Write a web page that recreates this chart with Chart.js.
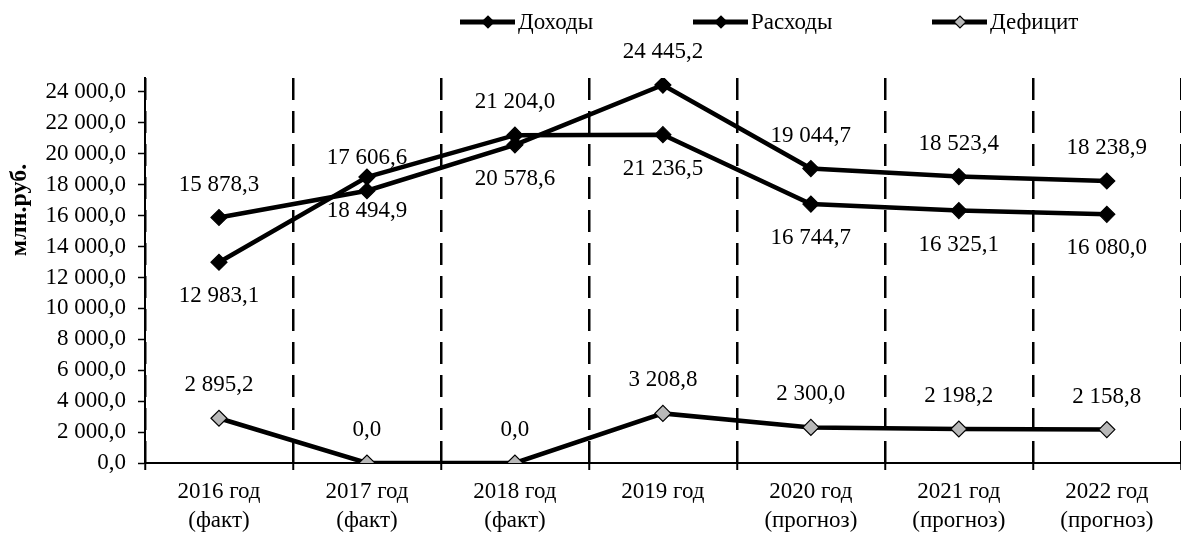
<!DOCTYPE html>
<html lang="ru">
<head>
<meta charset="utf-8">
<title>Доходы, расходы и дефицит бюджета</title>
<script src="https://cdn.jsdelivr.net/npm/chart.js@4.4.1/dist/chart.umd.min.js"></script>
<style>
  html, body { margin: 0; padding: 0; background: #fff; overflow: hidden; }
  #wrap { position: relative; width: 1190px; height: 533px; }
</style>
</head>
<body>
<div id="wrap"><canvas id="chart" width="1190" height="533"></canvas></div>
<script>
// ------------------ Data ------------------
const YEARS = [
  ["2016 год", "(факт)"],
  ["2017 год", "(факт)"],
  ["2018 год", "(факт)"],
  ["2019 год"],
  ["2020 год", "(прогноз)"],
  ["2021 год", "(прогноз)"],
  ["2022 год", "(прогноз)"]
];
const INCOME   = [12983.1, 18494.9, 21204.0, 21236.5, 16744.7, 16325.1, 16080.0]; // Доходы
const EXPENSES = [15878.3, 17606.6, 20578.6, 24445.2, 19044.7, 18523.4, 18238.9]; // Расходы
const DEFICIT  = [2895.2, 0.0, 0.0, 3208.8, 2300.0, 2198.2, 2158.8];              // Дефицит
const Y_TICKS  = [0, 2000, 4000, 6000, 8000, 10000, 12000, 14000, 16000, 18000, 20000, 22000, 24000];
const Y_MAX = 24900;

const FONT = "'Liberation Serif', 'Times New Roman', serif";
const FONT_SIZE = 23;

// "15 878,3"
function fmt(v) {
  const [i, d] = v.toFixed(1).split(".");
  return i.replace(/\B(?=(\d{3})+(?!\d))/g, " ") + "," + d;
}

// ------------------ Plugins ------------------
// value labels above / below each point
const valueLabels = {
  id: "valueLabels",
  afterDatasetsDraw(chart) {
    const ctx = chart.ctx;
    ctx.save();
    ctx.font = FONT_SIZE + "px " + FONT;
    ctx.fillStyle = "#000";
    ctx.textAlign = "center";
    ctx.textBaseline = "middle";
    chart.data.datasets.forEach((ds, i) => {
      chart.getDatasetMeta(i).data.forEach((pt, j) => {
        const dy = ds.labelSide[j] === "below" ? 34 : -33;
        ctx.fillText(fmt(ds.data[j]), pt.x, pt.y + dy);
      });
    });
    ctx.restore();
  }
};

// legend drawn as line + marker, like the original
const lineLegend = {
  id: "lineLegend",
  afterDraw(chart) {
    const ctx = chart.ctx;
    const starts = [460, 693, 932];
    const y = 22;
    ctx.save();
    chart.data.datasets.forEach((ds, i) => {
      const x = starts[i];
      ctx.strokeStyle = ds.borderColor;
      ctx.lineWidth = 5;
      ctx.beginPath();
      ctx.moveTo(x, y);
      ctx.lineTo(x + 55, y);
      ctx.stroke();
      const cx = x + 28, r = 6;
      ctx.beginPath();
      ctx.moveTo(cx - r, y); ctx.lineTo(cx, y - r); ctx.lineTo(cx + r, y); ctx.lineTo(cx, y + r);
      ctx.closePath();
      ctx.fillStyle = ds.pointBackgroundColor;
      ctx.fill();
      ctx.lineWidth = 1.2;
      ctx.strokeStyle = "#000";
      ctx.stroke();
      ctx.fillStyle = "#000";
      ctx.font = FONT_SIZE + "px " + FONT;
      ctx.textAlign = "left";
      ctx.textBaseline = "middle";
      ctx.fillText(ds.label, x + 58, y + 1);
    });
    ctx.restore();
  }
};

// y axis title, placed as in the source
const yTitle = {
  id: "yTitle",
  afterDraw(chart) {
    const ctx = chart.ctx;
    ctx.save();
    ctx.translate(20, 210);
    ctx.rotate(-Math.PI / 2);
    ctx.font = "bold 24px " + FONT;
    ctx.fillStyle = "#000";
    ctx.textAlign = "center";
    ctx.textBaseline = "middle";
    ctx.fillText("млн.руб.", 0, 0);
    ctx.restore();
  }
};

// ------------------ Chart ------------------
function series(label, data, fill, sides) {
  return {
    label, data,
    borderColor: "#000",
    borderWidth: 4.5,
    tension: 0,
    pointStyle: "rectRot",
    pointRadius: 8,
    pointBackgroundColor: fill,
    pointBorderColor: "#000",
    pointBorderWidth: 1.2,
    labelSide: sides
  };
}

new Chart(document.getElementById("chart"), {
  type: "line",
  data: {
    labels: YEARS,
    datasets: [
      series("Доходы", INCOME, "#000", ["below", "below", "above", "below", "below", "below", "below"]),
      series("Расходы", EXPENSES, "#000", ["above", "above", "below", "above", "above", "above", "above"]),
      series("Дефицит", DEFICIT, "#b8b8b8", DEFICIT.map(() => "above"))
    ]
  },
  options: {
    responsive: false,
    animation: false,
    layout: { padding: { top: 78, right: 2, left: 0, bottom: 0 } },
    plugins: {
      legend: { display: false },
      tooltip: { enabled: false },
      title: { display: false }
    },
    scales: {
      x: {
        offset: true,
        afterFit: s => { s.height = 70; },
        grid: {
          offset: true,
          color: "#000",
          lineWidth: 2.5,
          drawTicks: true,
          tickLength: 7,
          tickColor: "#000",
          tickWidth: 2
        },
        border: { display: true, color: "#000", width: 2, dash: [22, 11] },
        ticks: {
          color: "#000",
          font: { family: FONT, size: FONT_SIZE, lineHeight: 1.25 },
          padding: 8,
          maxRotation: 0,
          autoSkip: false
        }
      },
      y: {
        min: 0,
        max: Y_MAX,
        afterFit: s => { s.width = 145; },
        afterBuildTicks: s => { s.ticks = Y_TICKS.map(v => ({ value: v })); },
        grid: {
          drawOnChartArea: false,
          drawTicks: true,
          tickLength: 7,
          tickColor: "#000",
          tickWidth: 1.5
        },
        border: { display: true, color: "#000", width: 2 },
        ticks: {
          color: "#000",
          font: { family: FONT, size: FONT_SIZE },
          padding: 12,
          autoSkip: false,
          callback: v => fmt(v)
        }
      }
    }
  },
  plugins: [valueLabels, lineLegend, yTitle]
});
</script>
</body>
</html>
